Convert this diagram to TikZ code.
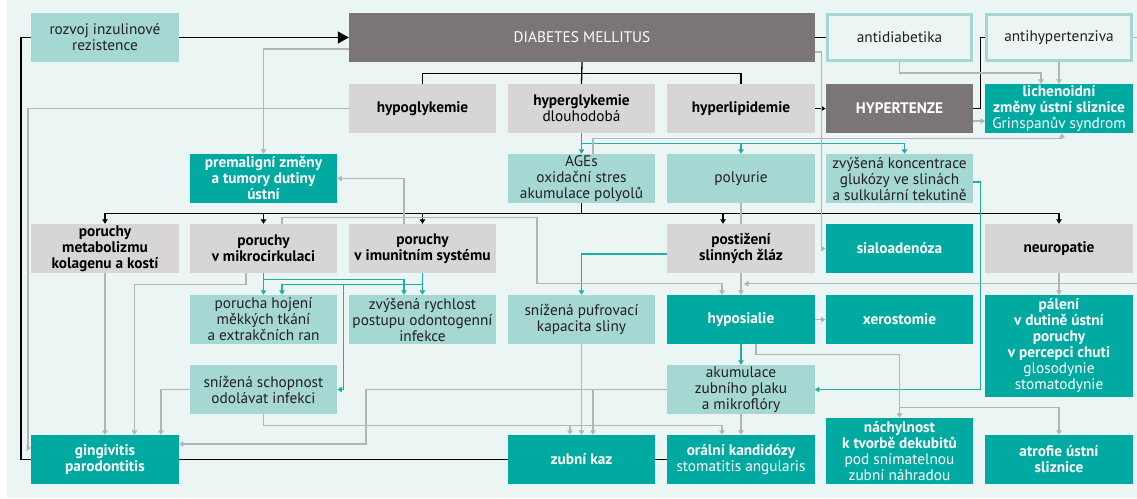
\documentclass[tikz,border=0pt]{standalone}
\usepackage{fontspec}
\setmainfont{PT Sans}
\usetikzlibrary{arrows.meta,positioning,calc}
\definecolor{bgmint}{HTML}{EBF5F3}
\definecolor{lteal}{HTML}{A6D8D3}
\definecolor{dteal}{HTML}{00AAA0}
\definecolor{lgrey}{HTML}{D8D5D5}
\definecolor{dgrey}{HTML}{7B7675}
\definecolor{lineg}{HTML}{B4B4B4}
\definecolor{linet}{HTML}{1BAFA6}
\definecolor{txt}{HTML}{231F20}
\pgfdeclarelayer{back}
\pgfdeclarelayer{lines}
\pgfsetlayers{back,lines,main}

\begin{document}
\begin{tikzpicture}[x=1pt,y=-1pt]
    \tikzstyle{box} = [minimum width=147.5pt, minimum height=49pt, inner sep=0pt, align=center, font=\fontsize{15.3}{16}\selectfont];
    \tikzstyle{lbox} = [box, fill=lteal, text=txt];
    \tikzstyle{gbox} = [box, fill=lgrey, text=black, font=\fontsize{15.3}{16}\selectfont\bfseries];
    \tikzstyle{tbox} = [box, fill=dteal, text=white, font=\fontsize{15.3}{16}\selectfont\bfseries];
    \tikzstyle{dgbox} = [box, fill=dgrey, text=white];
    \tikzstyle{obox} = [box, draw=lteal, line width=3pt, fill=bgmint, text=txt, minimum width=144.5pt, minimum height=46pt];
    \tikzstyle{bline} = [draw=black, line width=1.3pt];
    \tikzstyle{gline} = [draw=lineg, line width=1.3pt];
    \tikzstyle{tline} = [draw=linet, line width=1.3pt];
    \tikzstyle{arr} = [-{Triangle[length=4.5pt,width=5.5pt]}];

    \useasboundingbox (0,0) rectangle (1137,498);
    \begin{pgfonlayer}{back}
        \fill[bgmint] (7,0) rectangle (1137,498);
    \end{pgfonlayer}

    % row 1
    \node[lbox] (rozvoj) at (105,37.5) {rozvoj inzulinové\\rezistence};
    \node[dgbox, minimum width=466pt] (dm) at (582,37.5) {DIABETES MELLITUS};
    \node[obox] (antidiab) at (899.5,37.5) {antidiabetika};
    \node[obox] (antihyp) at (1059,37.5) {antihypertenziva};

    % row 2
    \node[gbox] (hypogly) at (422.5,108.5) {hypoglykemie};
    \node[gbox] (hypergly) at (581.5,108.5) {hyperglykemie\\{\mdseries dlouhodobá}};
    \node[gbox] (hyperlip) at (741,108.5) {hyperlipidemie};
    \node[dgbox, font=\fontsize{15.3}{16}\selectfont\bfseries] (hypert) at (899.5,108.5) {HYPERTENZE};
    \node[tbox] (lichen) at (1059,108.5) {lichenoidní\\změny ústní sliznice\\{\mdseries Grinspanův syndrom}};

    % row 3
    \node[tbox] (premal) at (263.5,178.5) {premaligní změny\\a tumory dutiny\\ústní};
    \node[lbox] (ages) at (581.5,178.5) {AGEs\\oxidační stres\\akumulace polyolů};
    \node[lbox] (polyur) at (741,178.5) {polyurie};
    \node[lbox] (koncent) at (899.5,178.5) {zvýšená koncentrace\\glukózy ve slinách\\a sulkulární tekutině};

    % row 4
    \node[gbox] (kolagen) at (105,248.5) {poruchy\\metabolizmu\\kolagenu a kostí};
    \node[gbox] (mikro) at (263.5,248.5) {poruchy\\v mikrocirkulaci};
    \node[gbox] (imun) at (422.5,248.5) {poruchy\\v imunitním systému};
    \node[gbox] (slinne) at (741,248.5) {postižení\\slinných žláz};
    \node[tbox] (sialo) at (899.5,248.5) {sialoadenóza};
    \node[gbox] (neuro) at (1059,248.5) {neuropatie};

    % row 5
    \node[lbox] (hojeni) at (263.5,319.5) {porucha hojení\\měkkých tkání\\a extrakčních ran};
    \node[lbox] (rychlost) at (422.5,319.5) {zvýšená rychlost\\postupu odontogenní\\infekce};
    \node[lbox] (pufr) at (581.5,319.5) {snížená pufrovací\\kapacita sliny};
    \node[tbox] (hyposial) at (741,319.5) {hyposialie};
    \node[tbox] (xero) at (899.5,319.5) {xerostomie};
    \node[tbox, minimum height=102pt] (paleni) at (1059,346) {pálení\\v dutině ústní\\poruchy\\v percepci chuti\\{\mdseries glosodynie}\\{\mdseries stomatodynie}};

    % row 6
    \node[lbox] (odolnost) at (263.5,389.5) {snížená schopnost\\odolávat infekci};
    \node[lbox] (plak) at (741,389.5) {akumulace\\zubního plaku\\a mikroflóry};

    % row 7
    \node[tbox] (gingiv) at (105,459.5) {gingivitis\\parodontitis};
    \node[tbox] (kaz) at (581.5,459.5) {zubní kaz};
    \node[tbox] (kandid) at (741,459.5) {orální kandidózy\\{\mdseries stomatitis angularis}};
    \node[tbox, minimum height=66pt] (dekubit) at (899.5,451) {náchylnost\\k tvorbě dekubitů\\{\mdseries pod snímatelnou}\\{\mdseries zubní náhradou}};
    \node[tbox] (atrofie) at (1059,459.5) {atrofie ústní\\sliznice};

    \begin{pgfonlayer}{lines}
        % black
        \draw[bline] (kandid.west) -| (21,37.5) -- (rozvoj.west);
        \draw[bline, -{Triangle[length=11pt,width=12pt]}] (rozvoj.east) -- (dm.west);
        \draw[bline] (dm.east) -- (antidiab.west);
        \draw[bline] (dm.south) -- (hypergly.north);
        \draw[bline] (hypogly.north) |- ($(dm.south)+(0,11)$) -| (hyperlip.north);
        \draw[bline, arr] (hyperlip.east) -- (hypert.west);
        \draw[bline] (hypert.east) -- ++(7,0) |- (antihyp.west);
        \draw[bline] (ages.south) -- ++(0,10.5);
        \foreach \t/\dx in {kolagen/0pt, mikro/0pt, imun/0pt, slinne/-18pt, neuro/0pt}
            \draw[bline, arr] ($(ages.south)+(0,10.5)$) -| ([xshift=\dx]\t.north);

        % teal
        \draw[tline, arr] (hypergly.south) -- (ages.north);
        \draw[tline, arr] (hypergly.south) -- ++(0,10) -| (polyur.north);
        \draw[tline, arr] (hypergly.south) -- ++(0,10) -| ([xshift=5pt]koncent.north);
        \draw[tline, arr] ([yshift=-5.5pt]slinne.west) -| (pufr.north);
        \draw[tline, arr] (mikro.south) -- (hojeni.north);
        \draw[tline, arr] (mikro.south) -- ++(0,6) -| ([xshift=-18.5pt]rychlost.north);
        \draw[tline, arr] (imun.south) -- (rychlost.north);
        \draw[tline, arr] (imun.south) -- ++(0,11) -| ([xshift=18.5pt]hojeni.north);
        \draw[tline, arr] (imun.south) -- ++(0,11) -| ([xshift=6pt]odolnost.east) -- (odolnost.east);
        \draw[tline, arr] (hyposial.south) -- (plak.north);
        \draw[tline, arr] ([yshift=-3.5pt]koncent.east) -- ++(7,0) |- (plak.east);

        % grey
        \draw[gline, arr] ($(dm.west)+(0,11.5)$) -| (premal.north);
        \draw[gline, arr] ($(dm.east)+(0,14.5)$) -- ++(6,0) |- (sialo.west);
        \draw[gline, arr] (hypogly.west) -| ($(gingiv.west)+(-3,-11.5)$) -- ($(gingiv.west)+(0,-11.5)$);
        \draw[gline, arr] (antidiab.south) -- ++(0,11) -| ([xshift=-18pt]lichen.north);
        \draw[gline, arr] (antihyp.south) -- (lichen.north);
        \draw[gline, arr] ([yshift=-12.5pt]hypert.east) -- ([yshift=-12.5pt]lichen.west);
        \draw[gline, arr] ([xshift=11.5pt]ages.north) -- ++(0,-15) -| ([xshift=3pt]lichen.south);
        \draw[gline, arr] ([xshift=-18.5pt]imun.north) |- (premal.east);
        \draw[gline, arr] ([xshift=18.5pt]mikro.north) -- ++(0,-6) -| ++(255,66) -| ([xshift=-19pt]hyposial.north);
        \draw[gline, arr] (polyur.south) -- (hyposial.north);
        \draw[gline, arr] (antihyp.east) -- ++(4.5,0) |- ($(hyposial.north)+(3,-11)$);
        \draw[gline, arr] (neuro.south) -- (paleni.north);
        \draw[gline, arr] (hyposial.east) -- (xero.west);
        \draw[gline, arr] ([xshift=-17.5pt]mikro.south) -- ++(0,11) -| ([xshift=29.5pt]gingiv.north);
        \draw[gline, arr] (kolagen.south) -- (gingiv.north);
        \draw[gline, arr] (odolnost.west) -| ([xshift=56pt]gingiv.north);
        \draw[gline, arr] (odolnost.south) -- ++(0,11) -| ([xshift=-11.5pt]kaz.north);
        \draw[gline, arr] (odolnost.south) -- ++(0,11) -| ([xshift=-19pt]kandid.north);
        \draw[gline, arr] (pufr.south) -- (kaz.north);
        \draw[gline, arr] (plak.west) -| ($(gingiv.east)+(187,-15.5)$) -- ($(gingiv.east)+(0,-15.5)$);
        \draw[gline, arr] (plak.west) -| ([xshift=11.5pt]kaz.north);
        \draw[gline, arr] (plak.south) -- (kandid.north);
        \draw[gline, arr] ([xshift=15pt]hyposial.south) -- ++(0,10) -| (dekubit.north);
        \draw[gline, arr] ($(dekubit.north)+(0,-10)$) -| (atrofie.north);
    \end{pgfonlayer}
\end{tikzpicture}
\end{document}
